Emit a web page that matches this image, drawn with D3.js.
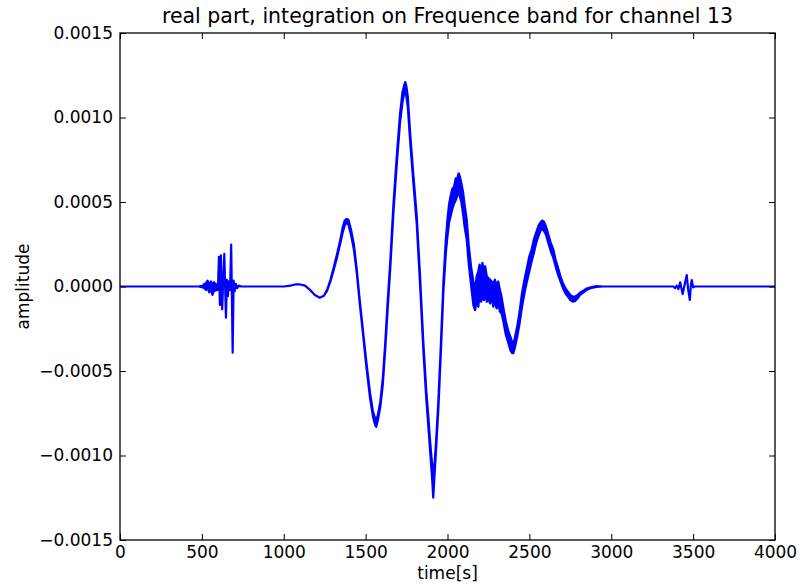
<!DOCTYPE html>
<html><head><meta charset="utf-8">
<script src="https://cdn.jsdelivr.net/npm/d3@7"></script>
<style>
body{margin:0;background:#fff}
text{font-family:"DejaVu Sans",sans-serif}
</style>
</head><body>
<svg id="c" width="803" height="587"></svg>
<script>
const title = "real part, integration on Frequence band for channel 13";
const xLabel = "time[s]";
const yLabel = "amplitude";
const xTicks = [0, 500, 1000, 1500, 2000, 2500, 3000, 3500, 4000];
const yTicks = [-0.0015, -0.0010, -0.0005, 0.0000, 0.0005, 0.0010, 0.0015];
const ampUnit = 1e-4;
// [time, low, high] — signal envelope (amplitude in units of 1e-4)
const signal = [
[0,0,0],[480,0,0],
[505,-0.05,0.05],[515,-0.1,0.15],[525,-0.2,0.2],[535,-0.1,0.35],[545,-0.35,0.1],[555,-0.15,0.3],
[565,-0.5,0.15],[575,-0.2,0.25],[585,-0.25,0.1],[595,-0.1,0.15],
[598,-0.2,-0.2],[604,1.75,1.75],[610,-1.1,-1.1],[616,1.85,1.85],[624,-1.36,-1.36],[630,0.3,0.3],
[637,1.93,1.93],[647,-1.85,-1.85],[653,0.4,0.4],[659,-0.57,-0.57],[666,0.3,0.3],[672,-0.2,-0.2],
[679,2.48,2.48],[688,-3.92,-3.92],[694,0.35,0.35],[700,-0.28,-0.28],[708,0.15,0.15],[716,-0.1,-0.1],
[725,0.05,0.05],[740,0,0],
[1000,0,0],[1040,0.05,0.05],[1070,0.12,0.12],[1100,0.12,0.12],[1130,0.05,0.05],[1160,-0.2,-0.2],
[1190,-0.5,-0.5],[1220,-0.67,-0.67],[1245,-0.55,-0.55],
[1265,-0.25,-0.2],[1285,0.3,0.4],[1303,0.9,1.05],[1325,1.7,1.9],[1344,2.5,2.7],[1360,3.2,3.5],
[1372,3.6,3.9],[1384,3.8,4.0],[1395,3.65,3.95],[1410,3.1,3.4],[1428,2.2,2.5],[1445,0.9,1.1],
[1465,-1.1,-0.9],[1486,-3.0,-2.8],[1505,-4.8,-4.5],[1527,-6.6,-6.3],[1545,-7.7,-7.4],[1558,-8.2,-7.8],
[1565,-8.3,-7.9],[1575,-7.9,-7.6],[1590,-7.1,-6.8],[1605,-5.8,-5.4],[1620,-3.7,-3.3],[1635,-1.3,-0.8],
[1650,1.0,1.4],[1670,4.4,4.9],[1690,7.2,7.7],[1710,9.7,10.2],[1725,10.9,11.5],[1735,11.4,11.9],
[1742,11.6,12.1],[1748,11.3,11.9],[1758,10.6,11.2],[1771,8.7,9.2],[1790,6.3,6.8],[1812,3.7,4.2],
[1832,0.2,0.7],[1852,-3.7,-3.2],[1870,-6.6,-6.1],[1883,-8.3,-7.7],[1895,-9.9,-9.3],[1905,-11.2,-10.4],
[1913,-12.5,-11.0],[1920,-11.3,-10.6],[1930,-9.7,-9.2],[1944,-7.3,-6.8],[1960,-3.8,-3.3],[1975,-0.3,0.3],
[1990,2.0,2.8],[2000,3.0,4.0],[2010,3.8,4.9],[2020,4.2,5.4],[2030,4.6,5.8],[2040,4.9,5.9],[2050,5.1,6.4],
[2060,5.4,6.4],[2068,5.6,6.7],[2076,5.3,6.5],[2085,5.0,6.1],[2095,4.3,5.6],[2105,3.5,4.8],[2117,2.8,4.0],
[2130,1.3,2.4],[2145,0.0,1.1],[2158,-1.1,0.3],[2168,-1.4,-0.2],
[2178,-0.9,0.6],[2188,-1.2,0.9],[2196,-0.5,1.3],[2205,-0.9,0.7],[2213,-0.6,1.4],[2222,-0.8,0.9],
[2230,-0.4,1.2],[2240,-0.9,0.6],[2250,-0.7,0.5],[2260,-1.0,0.4],[2270,-0.6,0.3],[2280,-1.2,0.2],
[2290,-0.9,0.4],[2300,-1.3,0.0],[2310,-1.0,0.3],[2320,-1.5,-0.2],[2330,-1.6,-0.6],[2340,-2.0,-1.2],
[2355,-2.8,-2.0],[2370,-3.3,-2.6],[2385,-3.8,-3.0],[2395,-3.95,-3.3],[2402,-3.95,-3.4],[2412,-3.6,-3.0],
[2425,-3.0,-2.4],[2440,-2.2,-1.5],[2455,-1.2,-0.4],[2470,-0.4,0.4],[2485,0.3,1.1],[2500,0.9,1.8],
[2514,1.5,2.2],[2528,2.0,2.8],[2542,2.6,3.2],[2556,3.0,3.6],[2568,3.3,3.8],[2578,3.4,3.9],
[2588,3.3,3.85],[2600,3.1,3.6],[2615,2.6,3.1],[2630,2.1,2.6],[2646,1.7,2.2],[2660,1.2,1.6],
[2675,0.7,1.1],[2690,0.3,0.6],[2705,-0.1,0.2],[2720,-0.4,-0.1],[2735,-0.6,-0.3],[2750,-0.8,-0.5],
[2765,-0.9,-0.6],[2780,-0.85,-0.6],[2795,-0.7,-0.5],[2810,-0.5,-0.35],[2830,-0.35,-0.25],
[2850,-0.2,-0.12],[2880,-0.08,-0.04],[2910,-0.02,0.02],[2950,0,0],
[3380,0,0],[3390,-0.1,-0.1],[3400,0.05,0.05],[3410,-0.15,-0.15],[3421,0.25,0.25],[3436,-0.45,-0.45],
[3461,0.68,0.68],[3470,-0.2,-0.2],[3480,-0.8,-0.8],[3486,0.1,0.1],[3492,0.38,0.38],[3500,-0.05,-0.05],
[3510,0,0],[4000,0,0]
];

const svg = d3.select("#c");
const L = 120, R = 775, T = 33, B = 540;
const x = d3.scaleLinear().domain([0, 4000]).range([L, R]);
const y = d3.scaleLinear().domain([-0.0015, 0.0015]).range([B, T]);
const fmtY = d3.format(".4f");

svg.append("clipPath").attr("id", "clip")
  .append("rect").attr("x", L).attr("y", T).attr("width", R - L).attr("height", B - T);

const area = d3.area()
  .x(d => x(d[0]))
  .y0(d => y(d[1] * ampUnit))
  .y1(d => y(d[2] * ampUnit));

svg.append("path")
  .datum(signal)
  .attr("clip-path", "url(#clip)")
  .attr("d", area)
  .attr("fill", "#0000ff")
  .attr("stroke", "#0000ff")
  .attr("stroke-width", 2.2)
  .attr("stroke-linejoin", "round");

function styleAxis(g) {
  g.select(".domain").remove();
  g.selectAll(".tick line").attr("stroke", "#000").attr("stroke-width", 1);
  g.selectAll(".tick text").attr("fill", "#000").attr("font-size", 17)
    .attr("font-family", "DejaVu Sans");
}

svg.append("g").attr("transform", `translate(0,${B})`)
  .call(d3.axisBottom(x).tickValues(xTicks).tickSize(-6).tickPadding(6).tickFormat(d3.format("d")))
  .call(styleAxis);
svg.append("g").attr("transform", `translate(0,${T})`)
  .call(d3.axisTop(x).tickValues(xTicks).tickSize(-6).tickFormat(""))
  .call(styleAxis);
svg.append("g").attr("transform", `translate(${L},0)`)
  .call(d3.axisLeft(y).tickValues(yTicks).tickSize(-6).tickPadding(7).tickFormat(fmtY))
  .call(styleAxis);
svg.append("g").attr("transform", `translate(${R},0)`)
  .call(d3.axisRight(y).tickValues(yTicks).tickSize(-6).tickFormat(""))
  .call(styleAxis);

svg.append("rect").attr("x", L).attr("y", T).attr("width", R - L).attr("height", B - T)
  .attr("fill", "none").attr("stroke", "#000").attr("stroke-width", 1.3);

svg.append("text").attr("x", (L + R) / 2).attr("y", 23).attr("text-anchor", "middle")
  .attr("font-size", 20.5).text(title);
svg.append("text").attr("x", (L + R) / 2).attr("y", 579).attr("text-anchor", "middle")
  .attr("font-size", 17).text(xLabel);
svg.append("text").attr("transform", `translate(23,${(T + B) / 2}) rotate(-90)`)
  .attr("text-anchor", "middle").attr("dy", "0.35em")
  .attr("font-size", 17).text(yLabel);
</script>
</body></html>
